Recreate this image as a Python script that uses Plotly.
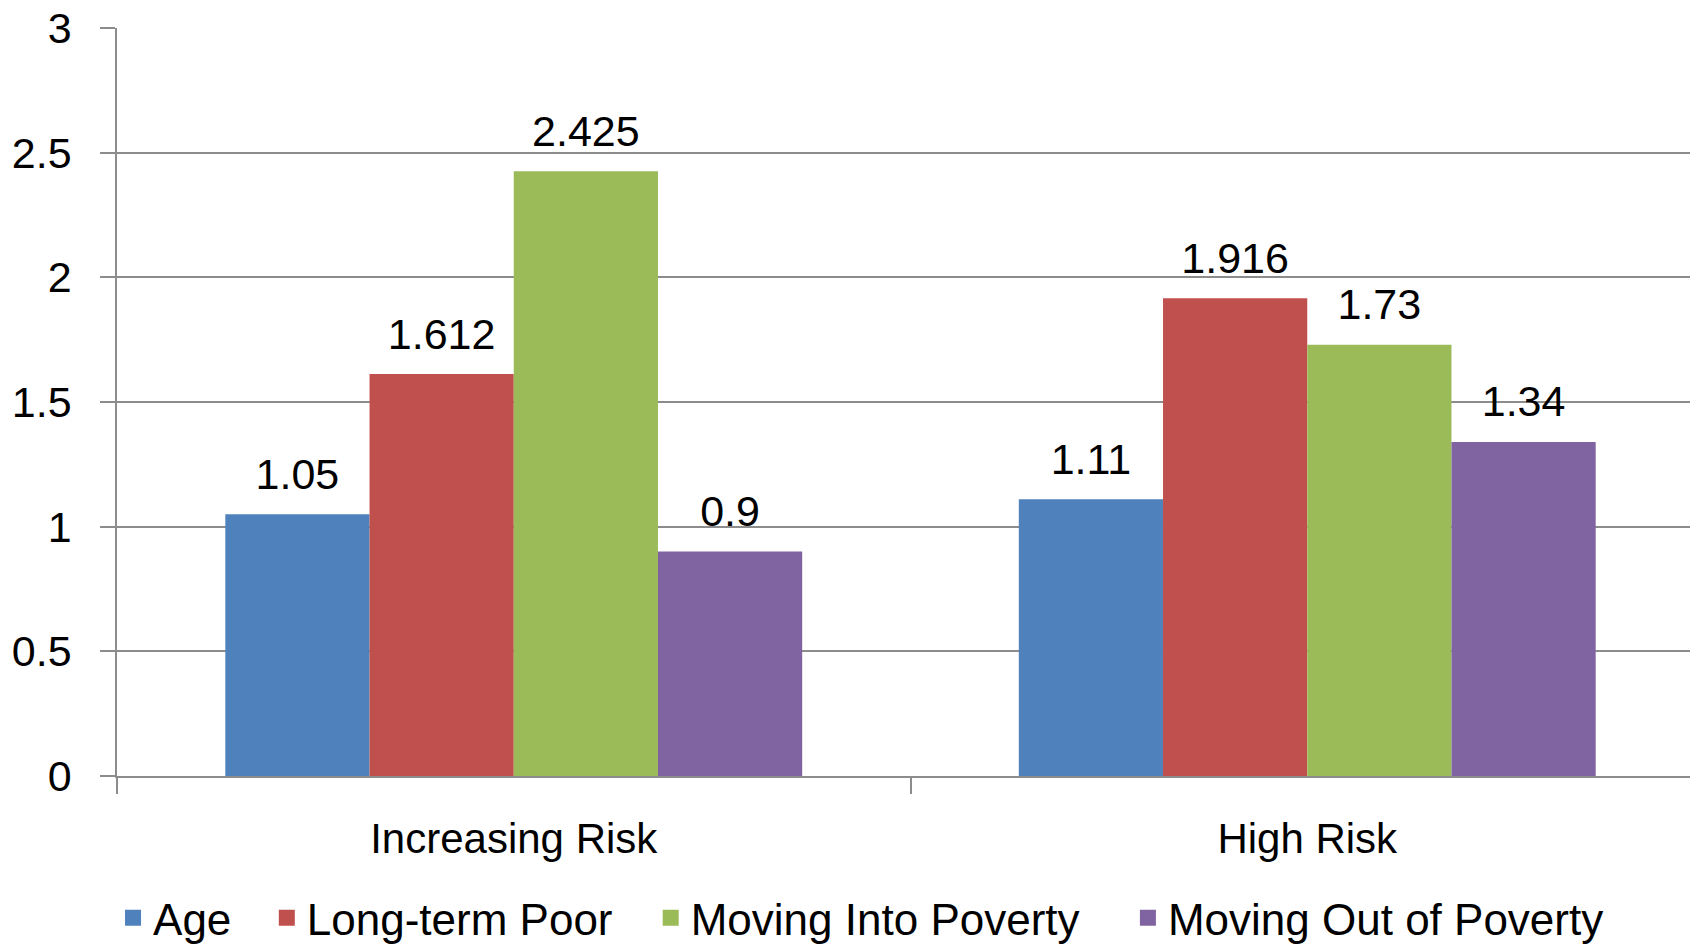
import plotly.graph_objects as go

categories = ["Increasing Risk", "High Risk"]
series_names = ["Age", "Long-term Poor", "Moving Into Poverty", "Moving Out of Poverty"]
age = [1.05, 1.11]
long_term_poor = [1.612, 1.916]
moving_into = [2.425, 1.73]
moving_out = [0.9, 1.34]
colors = ["#4F81BD", "#C0504D", "#9BBB59", "#8064A2"]

values = [age, long_term_poor, moving_into, moving_out]
FONT = "Liberation Sans"
GRID = "#8C8C8C"
legend_ids = ["legend", "legend2", "legend3", "legend4"]
legend_x = [-0.0025, 0.0944, 0.3363, 0.637]

fig = go.Figure()
for i, (name, vals) in enumerate(zip(series_names, values)):
    fig.add_trace(go.Bar(
        x=categories, y=vals, name=name,
        marker=dict(color=colors[i], line=dict(width=0)),
        offsetgroup=str(i), hoverinfo="skip", showlegend=False,
    ))
for i, (name, vals) in enumerate(zip(series_names, values)):
    fig.add_trace(go.Scatter(
        x=categories, y=vals, mode="markers+text",
        text=[f"{v:g}" for v in vals], textposition="top center",
        textfont=dict(family=FONT, size=43, color="black"),
        marker=dict(size=22, color="rgba(0,0,0,0)"),
        offsetgroup=str(i), showlegend=False, hoverinfo="skip",
        cliponaxis=False,
    ))
# legend entries (square swatches)
for i, name in enumerate(series_names):
    fig.add_trace(go.Scatter(
        x=[None], y=[None], mode="markers", name=name,
        marker=dict(symbol="square", size=16, color=colors[i]),
        legend=legend_ids[i], showlegend=True, hoverinfo="skip",
    ))

legend_common = dict(
    orientation="h", xanchor="left", y=-0.19, yanchor="middle",
    font=dict(family=FONT, size=44, color="black"),
    itemclick=False, itemdoubleclick=False, bgcolor="rgba(0,0,0,0)",
)

fig.update_layout(
    width=1698, height=946,
    margin=dict(l=109, r=2, t=20, b=178, autoexpand=False),
    paper_bgcolor="white", plot_bgcolor="white",
    barmode="group", bargap=0.273, bargroupgap=0,
    scattermode="group", scattergap=0.273,
    font=dict(family=FONT, size=42, color="black"),
    showlegend=True,
    xaxis=dict(
        type="category", showgrid=False, showline=True, linecolor=GRID, linewidth=1.5,
        ticks="outside", tickson="boundaries", ticklen=16, tickcolor=GRID, tickwidth=1.5,
        tickfont=dict(family=FONT, size=42, color="black"),
        ticklabelstandoff=25, automargin=False,
    ),
    yaxis=dict(
        range=[0, 3], dtick=0.5, tick0=0,
        showgrid=True, gridcolor=GRID, gridwidth=1.5,
        showline=True, linecolor=GRID, linewidth=1.5,
        ticks="outside", ticklen=15, tickcolor=GRID, tickwidth=1.5,
        tickfont=dict(family=FONT, size=43, color="black"),
        ticklabelstandoff=20, ticklabeloverflow="allow", zeroline=False,
        automargin=False,
    ),
)
for lid, lx in zip(legend_ids, legend_x):
    fig.update_layout({lid: dict(x=lx, **legend_common)})

fig.write_html("out.html")
